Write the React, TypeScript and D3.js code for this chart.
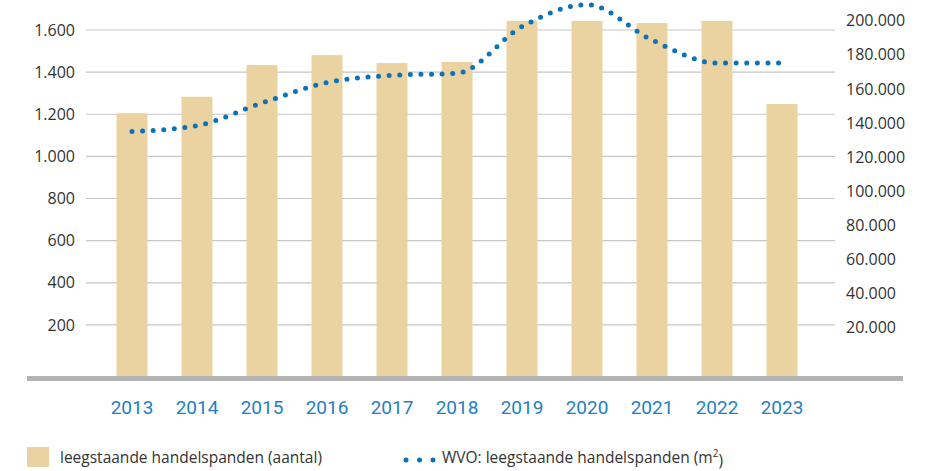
import { useEffect, useRef } from 'react';
import * as d3 from 'd3';

const years = ['2013', '2014', '2015', '2016', '2017', '2018', '2019', '2020', '2021', '2022', '2023'];
// leegstaande handelspanden (aantal) - left axis
const panden = [1205, 1283, 1434, 1481, 1443, 1448, 1643, 1643, 1633, 1643, 1249];
// WVO leegstaande handelspanden (m2) - right axis
const wvo = [135000, 138500, 151800, 163700, 168000, 169200, 196500, 209400, 188700, 175200, 175200];

const leftTicks = [200, 400, 600, 800, 1000, 1200, 1400, 1600];
const rightTicks = [20000, 40000, 60000, 80000, 100000, 120000, 140000, 160000, 180000, 200000];

const fmt = (v: number) => d3.format(',')(v).replace(/,/g, '.');

const App = () => {
  const ref = useRef<SVGSVGElement>(null);

  useEffect(() => {
    const svg = d3.select(ref.current);
    svg.selectAll('*').remove();

    const x = d3.scaleBand<string>()
      .domain(years)
      .range([99.5, 814.5])
      .paddingInner(0.523)
      .paddingOuter(0.2615);

    const yLeft = d3.scaleLinear().domain([-52, 1600]).range([378, 30]);
    const yRight = d3.scaleLinear().domain([0, 200000]).range([362, 20.7]);

    const font = "'Open Sans', sans-serif";

    // gridlines
    svg.append('g')
      .selectAll('line')
      .data(leftTicks)
      .enter()
      .append('line')
      .attr('x1', 86)
      .attr('x2', 835)
      .attr('y1', (d) => yLeft(d))
      .attr('y2', (d) => yLeft(d))
      .attr('stroke', '#c6c6c6')
      .attr('stroke-width', 1.2);

    // bars
    svg.append('g')
      .selectAll('rect')
      .data(panden)
      .enter()
      .append('rect')
      .attr('x', (_, i) => x(years[i]) || 0)
      .attr('y', (d) => yLeft(d))
      .attr('width', x.bandwidth())
      .attr('height', (d) => yLeft.range()[0] - yLeft(d))
      .attr('fill', '#ebd3a1');

    // baseline
    svg.append('rect')
      .attr('x', 27)
      .attr('y', 376)
      .attr('width', 876)
      .attr('height', 5)
      .attr('fill', '#b3b3b3');

    // left labels
    svg.append('g')
      .selectAll('text')
      .data(leftTicks)
      .enter()
      .append('text')
      .attr('x', 75)
      .attr('y', (d) => yLeft(d))
      .attr('dy', '0.35em')
      .attr('text-anchor', 'end')
      .attr('font-family', font)
      .attr('font-size', 16)
      .attr('fill', '#333')
      .text((d) => fmt(d));

    // right labels
    svg.append('g')
      .selectAll('text')
      .data(rightTicks)
      .enter()
      .append('text')
      .attr('x', 846)
      .attr('y', (d) => yRight(d))
      .attr('dy', '0.35em')
      .attr('font-family', font)
      .attr('font-size', 16)
      .attr('fill', '#333')
      .text((d) => fmt(d));

    // year labels
    svg.append('g')
      .selectAll('text')
      .data(years)
      .enter()
      .append('text')
      .attr('x', (d) => (x(d) || 0) + x.bandwidth() / 2)
      .attr('y', 407)
      .attr('dy', '0.35em')
      .attr('text-anchor', 'middle')
      .attr('font-family', 'Roboto, sans-serif')
      .attr('font-size', 19)
      .attr('fill', '#1f7fc4')
      .text((d) => d);

    // dotted line
    const line = d3.line<number>()
      .x((_, i) => (x(years[i]) || 0) + x.bandwidth() / 2)
      .y((d) => yRight(d))
      .curve(d3.curveMonotoneX);

    svg.append('path')
      .datum(wvo)
      .attr('d', line)
      .attr('fill', 'none')
      .attr('stroke', '#0a72bb')
      .attr('stroke-width', 5)
      .attr('stroke-linecap', 'round')
      .attr('stroke-dasharray', '0 10.6');

    // legend
    const legend = svg.append('g').attr('font-family', font).attr('font-size', 15.5).attr('fill', '#333');
    legend.append('rect')
      .attr('x', 27).attr('y', 447).attr('width', 22).attr('height', 20)
      .attr('fill', '#ebd3a1');
    legend.append('text')
      .attr('x', 60).attr('y', 458).attr('dy', '0.35em')
      .text('leegstaande handelspanden (aantal)');
    legend.selectAll('circle')
      .data([0, 1, 2])
      .enter()
      .append('circle')
      .attr('cx', (d) => 406 + d * 13.5)
      .attr('cy', 460)
      .attr('r', 2.5)
      .attr('fill', '#0a72bb');
    const t = legend.append('text')
      .attr('x', 442).attr('y', 458).attr('dy', '0.35em');
    t.append('tspan').text('WVO: leegstaande handelspanden (m');
    t.append('tspan').attr('font-size', 10).attr('dy', '-0.6em').text('2');
    t.append('tspan').attr('dy', '0.55em').text(')');
  }, []);

  return <svg ref={ref} width={931} height={471} style={{ display: 'block', position: 'absolute', left: 0, top: 0 }} />;
};

export default App;
